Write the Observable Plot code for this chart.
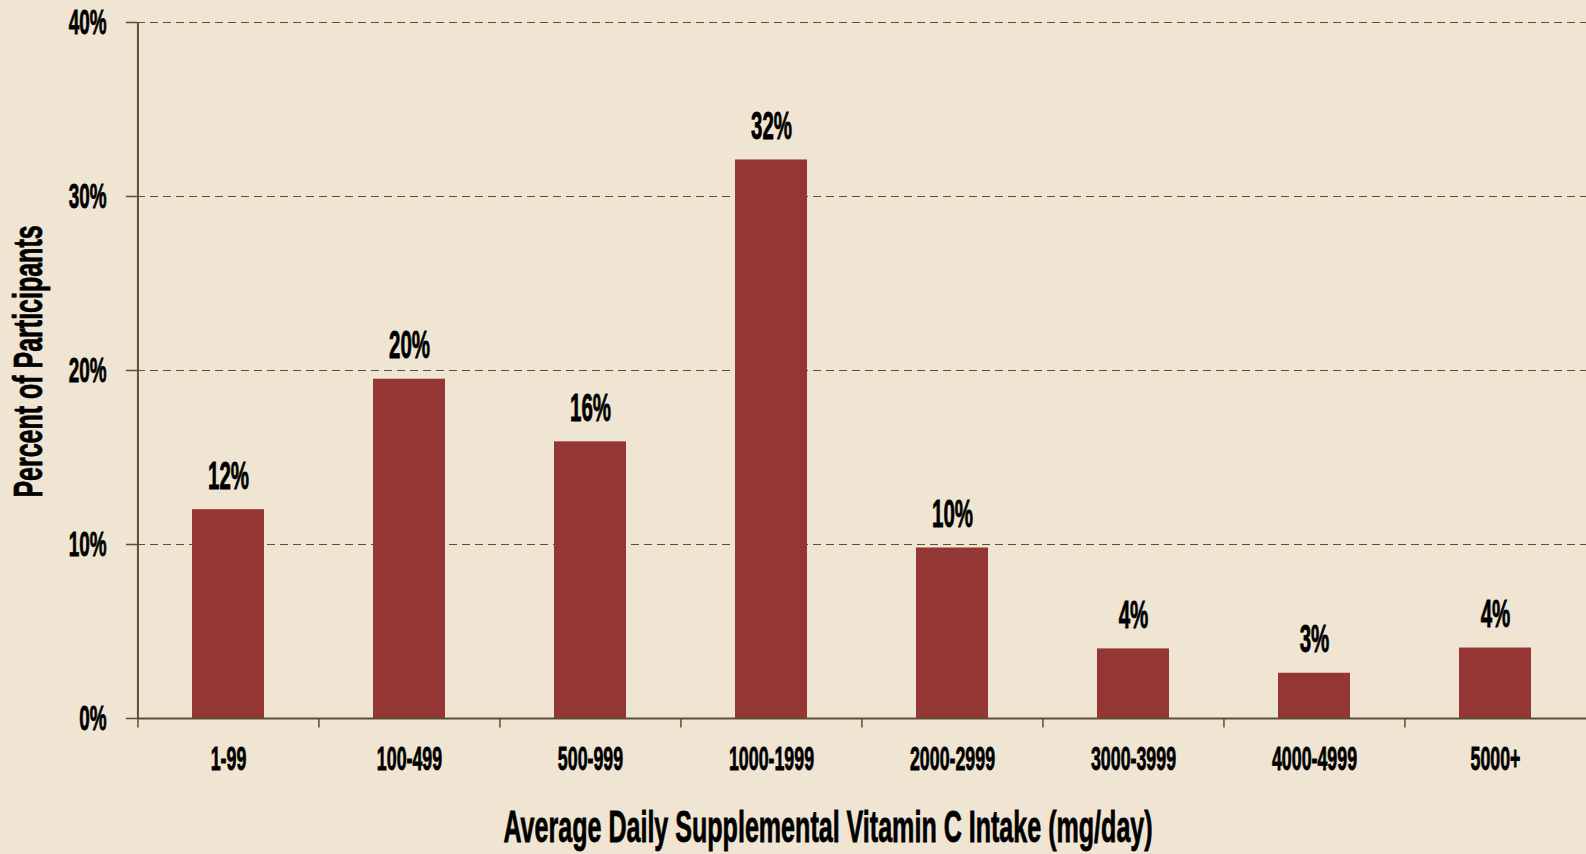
<!DOCTYPE html>
<html>
<head>
<meta charset="utf-8">
<script src="https://cdn.jsdelivr.net/npm/d3@7"></script>
<script src="https://cdn.jsdelivr.net/npm/@observablehq/plot@0.6"></script>
<style>
  html, body { margin: 0; padding: 0; background: #F0E5D2; }
  #chart { width: 1586px; height: 854px; overflow: hidden; }
</style>
</head>
<body>
<div id="chart"></div>
<script>
const categories = ["1-99", "100-499", "500-999", "1000-1999", "2000-2999", "3000-3999", "4000-4999", "5000+"];
const percents = [12.0, 19.5, 15.9, 32.1, 9.8, 4.0, 2.6, 4.05];
const valueLabels = ["12%", "20%", "16%", "32%", "10%", "4%", "3%", "4%"];
const yTicks = [0, 10, 20, 30, 40];
const xTitle = "Average Daily Supplemental Vitamin C Intake (mg/day)";
const yTitle = "Percent of Participants";

const data = categories.map((c, i) => ({cat: c, pct: percents[i], label: valueLabels[i]}));

const W = 1586, H = 854;
const mL = 137, mR = 0, mT = 22, mB = 136;
const step = (W - mL - mR) / categories.length;
const axisColor = "#5A5133";
const barColor = "#943634";

const plot = Plot.plot({
  width: W,
  height: H,
  marginLeft: mL,
  marginRight: mR,
  marginTop: mT,
  marginBottom: mB,
  style: {background: "#F0E5D2", fontFamily: "Liberation Sans, Arial, sans-serif", fontWeight: "bold", color: "#000"},
  x: {domain: categories, paddingInner: 0.6, paddingOuter: 0.3, label: null},
  y: {domain: [0, 40], label: null},
  marks: [
    Plot.gridY(yTicks.filter(d => d > 0), {stroke: axisColor, strokeOpacity: 1, strokeWidth: 1.2, strokeDasharray: "8,5"}),
    Plot.barY(data, {x: "cat", y: "pct", fill: barColor}),
    Plot.ruleY([0], {stroke: axisColor, strokeWidth: 2}),
    Plot.ruleX([categories[0]], {x: d => d, dx: -step / 2, y1: 0, y2: 40, stroke: axisColor, strokeWidth: 2}),
    Plot.ruleX(categories, {x: d => d, dx: -step / 2, y1: 0, y2: -0.55, stroke: axisColor, strokeWidth: 1.5}),
    Plot.axisY({ticks: yTicks, tickFormat: d => d + "%", tickSize: 11, tickPadding: 20, stroke: axisColor, strokeWidth: 1.5, strokeOpacity: 1, fontSize: 35, fill: "#000", label: null}),
    Plot.axisX({tickSize: 0, tickPadding: 28, fontSize: 33, fill: "#000", label: null}),
    Plot.text(data, {x: "cat", y: "pct", text: "label", lineAnchor: "bottom", dy: -21, fontSize: 38, fill: "#000", className: "vlabel"}),
    Plot.text([xTitle], {frameAnchor: "bottom", textAnchor: "middle", lineAnchor: "top", dx: -34, dy: 92, fontSize: 44, fill: "#000", className: "xtitle"}),
    Plot.text([yTitle], {frameAnchor: "left", textAnchor: "middle", lineAnchor: "top", rotate: -90, dx: -124, dy: -9, fontSize: 40, fill: "#000", className: "ytitle"})
  ]
});

plot.querySelectorAll("text").forEach(t => {
  let s = 0.54;
  if (t.closest(".xtitle")) s = 0.57;
  else if (t.closest(".ytitle")) s = 0.625;
  const tr = t.getAttribute("transform") || "";
  t.setAttribute("transform", tr + ` scale(${s},1)`);
  t.setAttribute("stroke", "#000");
  t.setAttribute("stroke-width", "0.8");
});

document.getElementById("chart").appendChild(plot);
</script>
</body>
</html>
